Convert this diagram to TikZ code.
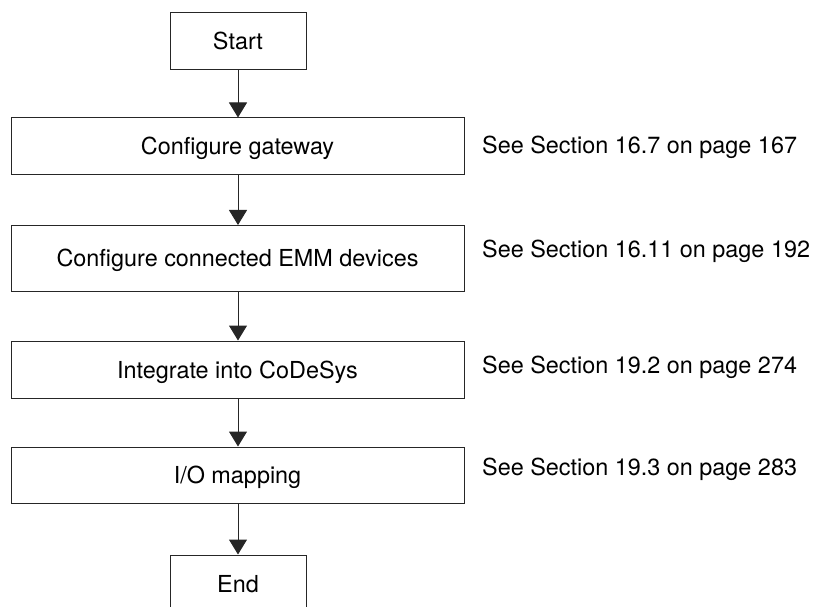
\documentclass[tikz,border=0pt]{standalone}
\usepackage{fontspec}
\setmainfont{TeX Gyre Heros}
\usetikzlibrary{arrows.meta}
\begin{document}
\begin{tikzpicture}[x=1pt,y=-1pt,
  box/.style={draw=black!85,line width=1pt,rectangle,inner sep=0pt,
    text height=17pt,text depth=0pt,font=\fontsize{23.4}{28}\selectfont},
  note/.style={anchor=base west,inner sep=0pt,font=\fontsize{23.4}{28}\selectfont},
  flow/.style={draw=black!85,line width=1pt,-{Triangle[width=18pt,length=15pt]}}]
\useasboundingbox (0,0) rectangle (815,607);
\node[box,minimum width=136pt,minimum height=57pt] (start) at (238,41.5) {Start};
\node[box,minimum width=453pt,minimum height=57pt] (gw) at (237.5,146.5) {Configure gateway};
\node[box,minimum width=453pt,minimum height=66pt] (emm) at (237.5,258.5) {Configure connected EMM devices};
\node[box,minimum width=453pt,minimum height=57pt] (cds) at (237.5,369.5) {Integrate into CoDeSys};
\node[box,minimum width=453pt,minimum height=56pt] (io) at (237.5,475) {I/O mapping};
\node[box,minimum width=136pt,minimum height=57pt] (end) at (238,583.5) {End};
\draw[flow] (start.south) -- (gw.north -| start.south);
\draw[flow] (gw.south -| start.south) -- (emm.north -| start.south);
\draw[flow] (emm.south -| start.south) -- (cds.north -| start.south);
\draw[flow] (cds.south -| start.south) -- (io.north -| start.south);
\draw[flow] (io.south -| start.south) -- (end.north);
\node[note] (n1) at (482,154) {See Section 16.7 on page 167};
\node[note] (n2) at (482,258) {See Section 16.11 on page 192};
\node[note] (n3) at (482,373) {See Section 19.2 on page 274};
\node[note] (n4) at (482,475) {See Section 19.3 on page 283};
\end{tikzpicture}
\end{document}
